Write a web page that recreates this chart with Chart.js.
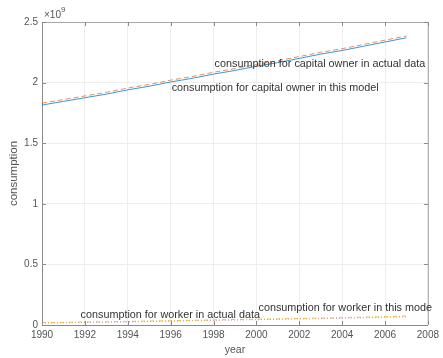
<!DOCTYPE html>
<html><head><meta charset="utf-8">
<script src="https://cdn.jsdelivr.net/npm/chart.js@4/dist/chart.umd.min.js"></script>
<style>html,body{margin:0;padding:0;background:#fff}#wrap{width:443px;height:358px}</style>
</head><body><div id="wrap"><canvas id="c" width="443" height="358"></canvas></div>
<script>
const years = [1990,1991,1992,1993,1994,1995,1996,1997,1998,1999,2000,2001,2002,2003,2004,2005,2006,2007];
const capitalActual = [1.83,1.86,1.89,1.92,1.955,1.985,2.02,2.05,2.085,2.115,2.15,2.18,2.215,2.25,2.28,2.315,2.35,2.385];
const capitalModel = [1.815,1.845,1.875,1.905,1.94,1.97,2.005,2.035,2.07,2.10,2.135,2.165,2.20,2.235,2.265,2.30,2.335,2.37];
const workerActual = [0.020,0.022,0.025,0.027,0.030,0.033,0.036,0.039,0.042,0.045,0.048,0.051,0.054,0.057,0.061,0.065,0.069,0.074];
const workerModel = [0.016,0.018,0.021,0.023,0.026,0.029,0.032,0.035,0.038,0.041,0.044,0.047,0.050,0.053,0.056,0.060,0.064,0.068];
const SCALE = 1e9;
const xTicks = [1990,1992,1994,1996,1998,2000,2002,2004,2006,2008];
const yTicks = [0,0.5,1,1.5,2,2.5];
const labels = [
  {text:'consumption for capital owner in actual data', x:1998.05, y:2.150},
  {text:'consumption for capital owner in this model', x:1996.05, y:1.952},
  {text:'consumption for worker in actual data', x:1991.8, y:0.080},
  {text:'consumption for worker in this mode', x:2000.1, y:0.137}
];

function pts(arr){ return years.map((y,i)=>({x:y, y:arr[i]*SCALE})); }
const FONT = '"Liberation Sans", Arial, sans-serif';

const annot = {
  id:'annot',
  afterDraw(chart){
    const {ctx, chartArea:a, scales:{x,y}} = chart;
    ctx.save();
    ctx.strokeStyle = '#a8a8a8'; ctx.lineWidth = 1;
    ctx.beginPath();
    ctx.moveTo(a.left, a.top+0.5); ctx.lineTo(a.right+0.5, a.top+0.5); ctx.lineTo(a.right+0.5, a.bottom);
    ctx.stroke();
    ctx.strokeStyle = '#8a8a8a';
    ctx.beginPath();
    xTicks.forEach(v=>{const px=Math.round(x.getPixelForValue(v))+0.5;
      ctx.moveTo(px,a.bottom); ctx.lineTo(px,a.bottom-4);
      ctx.moveTo(px,a.top); ctx.lineTo(px,a.top+4);});
    yTicks.forEach(v=>{const py=Math.round(y.getPixelForValue(v*SCALE))+0.5;
      ctx.moveTo(a.left,py); ctx.lineTo(a.left+4,py);
      ctx.moveTo(a.right,py); ctx.lineTo(a.right-4,py);});
    ctx.stroke();
    ctx.fillStyle = '#555';
    ctx.textBaseline = 'alphabetic'; ctx.textAlign='left';
    ctx.font = '10px ' + FONT;
    ctx.fillText('\u00d710', a.left+2, a.top-4);
    const w = ctx.measureText('\u00d710').width;
    ctx.font = '8px ' + FONT;
    ctx.fillText('9', a.left+2+w, a.top-10);
    ctx.fillStyle = '#333';
    ctx.font = '10.8px ' + FONT;
    ctx.textBaseline = 'middle';
    labels.forEach(l=>{
      ctx.fillText(l.text, x.getPixelForValue(l.x), y.getPixelForValue(l.y*SCALE));
    });
    ctx.restore();
  }
};

new Chart(document.getElementById('c'), {
  type:'line',
  data:{datasets:[
    {label:'capital model', data:pts(capitalModel), borderColor:'rgba(0,114,189,0.75)', borderWidth:1, pointRadius:0, fill:false},
    {label:'capital actual', data:pts(capitalActual), borderColor:'rgba(217,83,25,0.65)', borderWidth:1, borderDash:[5,3], pointRadius:0, fill:false},
    {label:'worker actual', data:pts(workerActual), borderColor:'rgba(237,177,32,0.8)', borderWidth:1, borderDash:[4,2,1,2], pointRadius:0, fill:false},
    {label:'worker model', data:pts(workerModel), borderColor:'rgba(126,47,142,0.55)', borderWidth:1, borderDash:[1,2], pointRadius:0, fill:false}
  ]},
  options:{
    responsive:false, animation:false, devicePixelRatio:1,
    layout:{padding:{left:0,right:12,top:22,bottom:0}},
    plugins:{legend:{display:false}, tooltip:{enabled:false}},
    scales:{
      x:{type:'linear', min:1990, max:2008,
        afterFit(s){s.height=33;},
        afterBuildTicks(s){s.ticks = xTicks.map(v=>({value:v}));},
        ticks:{callback:v=>String(v), color:'#555', font:{size:10,family:FONT}, padding:4, maxRotation:0, autoSkip:false},
        grid:{color:'#eeeeee', drawTicks:false},
        border:{color:'#8a8a8a'},
        title:{display:true, text:'year', color:'#555', font:{size:10.5,family:FONT}, padding:{top:0,bottom:2}}
      },
      y:{type:'linear', min:0, max:2.5e9,
        afterFit(s){s.width=42;},
        afterBuildTicks(s){s.ticks = yTicks.map(v=>({value:v*SCALE}));},
        ticks:{callback:v=>String(v/SCALE), color:'#555', font:{size:10,family:FONT}, padding:4},
        grid:{color:'#eeeeee', drawTicks:false},
        border:{color:'#8a8a8a'},
        title:{display:true, text:'consumption', color:'#555', font:{size:11.5,family:FONT}, padding:{top:7,bottom:2}}
      }
    }
  },
  plugins:[annot]
});
</script></body></html>
